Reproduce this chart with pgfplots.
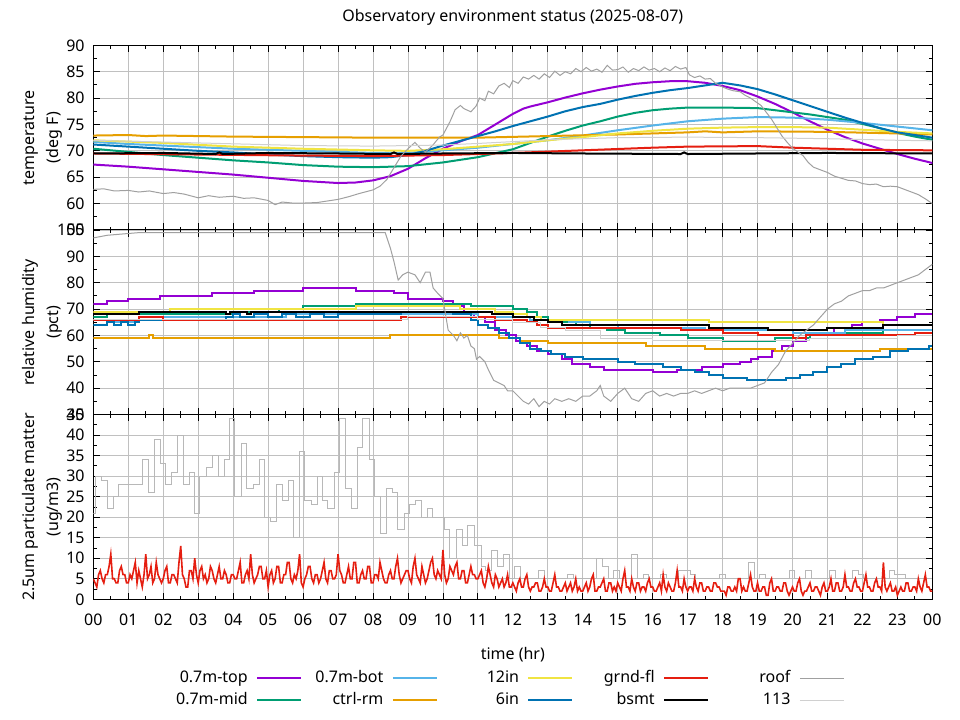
\documentclass[border=0pt]{standalone}
\usepackage{fontspec}
\setmainfont{Noto Sans}
\usepackage{pgfplots}
\pgfplotsset{compat=1.18}
\definecolor{cpurple}{HTML}{9400D3}
\definecolor{cgreen}{HTML}{009E73}
\definecolor{clblue}{HTML}{56B4E9}
\definecolor{corange}{HTML}{E69F00}
\definecolor{cyellow}{HTML}{F0E442}
\definecolor{cblue}{HTML}{0072B2}
\definecolor{cred}{HTML}{E51E10}
\definecolor{croof}{HTML}{A0A0A0}
\definecolor{c113}{HTML}{D0D0D0}
\definecolor{cgrid}{HTML}{C0C0C0}
\pgfplotsset{
  envaxis/.style={
    scale only axis, width=629.25pt, xmin=0, xmax=24,
    xtick={0,1,...,24}, minor x tick num=1, minor y tick num=1,
    tick align=inside, tick pos=both,
    major tick length=5pt, minor tick length=2.5pt,
    grid=major, major grid style={color=cgrid, line width=0.6pt},
    axis line style={line width=0.75pt},
    every tick/.style={black, line width=0.6pt},
    every minor tick/.style={black, line width=0.6pt},
    tick label style={font=\fontsize{12}{14}\selectfont},
    /pgf/number format/assume math mode=true,
    yticklabel shift=3pt,
    ylabel style={at={(axis description cs:-0.0604,0.5)}, anchor=center, align=center, font=\fontsize{12}{18}\selectfont},
  },
  thick line/.style={line width=1.5pt},
  thin line/.style={line width=0.75pt},
}
\begin{document}
\begin{tikzpicture}
\path[use as bounding box] (0,0) rectangle (720pt,540pt);
\node[font=\fontsize{12}{14}\selectfont, anchor=base] at (384.6pt,523.7pt) {Observatory environment status (2025-08-07)};

% ---------------- temperature ----------------
\begin{axis}[envaxis, at={(70pt,367.5pt)}, anchor=south west, height=138.5pt,
  ymin=55, ymax=90, ytick={55,60,...,90}, xticklabels={},
  ylabel={temperature\\(deg F)}]
\addplot[cpurple, thick line] coordinates {(0,67.4)(1,67.0)(2,66.5)(3,66.0)(4,65.5)(5,64.9)(6,64.3)(7,63.9)(7.5,64.0)(8,64.4)(8.5,65.2)(9,66.6)(9.5,68.6)(10,70.4)(10.5,71.8)(11,73.0)(11.5,75.0)(12,77.0)(12.3,78.0)(12.5,78.4)(13,79.2)(13.5,80.1)(14,80.9)(14.5,81.6)(15,82.2)(15.5,82.7)(16,83.0)(16.5,83.2)(17,83.2)(17.5,82.9)(18,82.3)(18.5,81.5)(19,80.3)(19.5,78.9)(20,77.3)(20.5,75.6)(21,74.0)(21.5,72.6)(22,71.4)(22.5,70.4)(23,69.4)(23.5,68.5)(24,67.7)};
\addplot[cgreen, thick line] coordinates {(0,70.4)(1,69.8)(2,69.2)(3,68.7)(4,68.2)(5,67.8)(6,67.3)(7,67.0)(8,66.9)(9,67.1)(10,67.8)(11,68.8)(12,70.3)(12.5,71.5)(13,72.7)(13.5,73.8)(14,74.8)(14.5,75.6)(15,76.5)(15.5,77.2)(16,77.7)(16.5,78.0)(17,78.2)(18,78.2)(19,78.1)(19.5,77.7)(20,77.3)(20.5,76.9)(21,76.4)(21.5,75.9)(22,75.1)(22.5,74.3)(23,73.4)(23.5,72.7)(24,72.1)};
\addplot[clblue, thick line] coordinates {(0,71.7)(1,71.3)(2,71.0)(3,70.7)(4,70.4)(5,70.2)(6,70.0)(7,69.8)(8,69.6)(9,69.6)(10,70.1)(11,70.6)(12,71.3)(13,72.0)(14,72.9)(15,73.9)(16,74.8)(17,75.6)(18,76.1)(19,76.4)(20,76.3)(21,75.9)(22,75.3)(23,74.6)(24,73.9)};
\addplot[corange, thick line] coordinates {(0,72.9)(1,73.0)(1.5,72.8)(2,72.9)(4,72.7)(6,72.6)(8,72.5)(11,72.5)(13,72.8)(15,73.1)(17,73.5)(17.5,73.7)(18,73.5)(19,73.7)(21,73.6)(23,73.3)(24,73.1)};
\addplot[cyellow, thick line] coordinates {(0,72.0)(2,71.5)(4,70.8)(6,70.4)(8,70.1)(9,70.0)(10,70.3)(11,70.8)(12,71.3)(13,72.0)(14,72.6)(15,73.3)(16,73.8)(17,74.2)(18,74.4)(19,74.5)(20,74.5)(21,74.4)(22,74.0)(23,73.6)(24,73.3)};
\addplot[cblue, thick line] coordinates {(0,71.2)(1,70.8)(2,70.4)(3,70.0)(4,69.7)(5,69.3)(6,69.0)(7,68.8)(8,68.7)(8.5,68.8)(9,69.2)(9.5,70.0)(10,71.0)(10.5,71.9)(11,72.8)(11.5,73.7)(12,74.7)(12.5,75.6)(13,76.5)(13.5,77.5)(14,78.3)(14.5,78.9)(15,79.7)(15.5,80.4)(16,81.0)(16.5,81.5)(17,81.9)(17.5,82.4)(18,82.9)(18.5,82.4)(19,81.7)(19.5,80.7)(20,79.6)(20.5,78.5)(21,77.4)(21.5,76.3)(22,75.3)(22.5,74.3)(23,73.5)(23.5,73.0)(24,72.5)};
\addplot[cred, thick line] coordinates {(0,69.5)(3,69.3)(6,69.1)(8,69.0)(10,69.2)(11,69.4)(12,69.6)(14,70.1)(16,70.6)(17,70.8)(19,70.9)(20,70.6)(21,70.4)(22,70.2)(24,70.1)};
\addplot[black, thick line] coordinates {(0,69.5)(2,69.6)(3.5,69.4)(3.6,69.7)(3.7,69.4)(5,69.6)(7,69.5)(8.5,69.4)(8.6,69.7)(8.7,69.4)(10,69.5)(12,69.6)(14,69.5)(16.8,69.4)(16.9,69.7)(17,69.4)(19,69.5)(21,69.6)(24,69.5)};
\addplot[croof, thin line] coordinates {(0,62.7)(0.3,62.8)(0.6,62.4)(1.0,62.5)(1.3,62.2)(1.6,62.4)(2.0,61.9)(2.3,62.1)(2.6,61.8)(3.0,61.1)(3.3,61.5)(3.6,61.2)(4.0,61.4)(4.3,61.0)(4.6,61.1)(5.0,60.6)(5.2,59.8)(5.4,60.3)(5.7,60.1)(6.0,60.1)(6.4,60.2)(6.8,60.6)(7.0,60.8)(7.3,61.3)(7.6,61.9)(8.0,62.6)(8.2,63.3)(8.4,64.6)(8.6,66.8)(8.8,69.0)(9.0,70.4)(9.2,71.6)(9.35,70.5)(9.5,69.8)(9.7,71.0)(9.9,72.6)(10.0,73.0)(10.2,75.5)(10.35,77.8)(10.5,78.6)(10.6,78.0)(10.8,77.4)(10.95,78.5)(11.05,80.0)(11.2,79.5)(11.3,81.3)(11.45,80.8)(11.6,82.3)(11.75,82.8)(11.9,82.0)(12.0,83.3)(12.15,82.8)(12.3,84.0)(12.45,83.6)(12.6,84.3)(12.75,83.6)(12.9,84.6)(13.05,83.9)(13.2,85.1)(13.35,84.3)(13.5,85.0)(13.65,84.6)(13.8,85.6)(13.95,85.0)(14.1,85.8)(14.25,85.1)(14.4,85.5)(14.55,84.9)(14.7,86.2)(14.85,85.3)(15.0,85.4)(15.15,85.9)(15.3,84.9)(15.45,85.6)(15.6,85.2)(15.75,85.9)(15.9,85.3)(16.05,85.6)(16.2,85.0)(16.35,85.7)(16.5,85.2)(16.65,86.0)(16.8,85.5)(16.95,85.8)(17.05,84.4)(17.2,83.9)(17.35,84.2)(17.5,83.6)(17.65,83.7)(17.8,82.8)(18.0,82.1)(18.15,81.7)(18.3,81.4)(18.5,81.2)(18.65,80.5)(18.8,80.0)(18.95,79.3)(19.1,78.6)(19.25,77.3)(19.4,76.0)(19.55,74.4)(19.7,72.8)(19.85,71.6)(20.0,70.5)(20.15,69.8)(20.3,69.1)(20.45,67.8)(20.6,66.9)(20.8,66.4)(21.0,65.9)(21.2,65.2)(21.4,64.8)(21.6,64.4)(21.8,64.3)(22.0,63.8)(22.2,63.6)(22.4,63.7)(22.6,63.2)(22.8,63.3)(23.0,63.2)(23.2,62.7)(23.4,62.2)(23.6,61.7)(23.8,60.9)(24.0,60.0)};
\addplot[c113, thin line] coordinates {(0,72.0)(3,71.5)(6,71.0)(8,70.9)(10,71.1)(11,71.4)(13,72.1)(15,72.5)(17,72.6)(19,72.5)(21,72.3)(23,72.0)(24,71.9)};
\end{axis}

% ---------------- humidity ----------------
\begin{axis}[envaxis, at={(70pt,229.1pt)}, anchor=south west, height=138.4pt,
  ymin=30, ymax=100, ytick={30,40,...,100}, xticklabels={},
  ylabel={relative humidity\\(pct)}]
\addplot[cpurple, thick line, const plot] coordinates {(0,72)(0.4,73)(1.0,74)(1.9,75)(3.4,76)(4.6,77)(6.0,78)(7.5,77)(8.6,76)(9.0,74)(10.0,73)(10.3,71)(10.6,69)(10.9,67)(11.2,65)(11.5,62)(11.8,60)(12.1,58)(12.4,56)(12.7,54)(13.0,53)(13.4,51)(13.7,49)(14.2,48)(14.6,47)(16.0,46)(16.7,47)(17.4,48)(18.0,49)(18.5,50)(18.8,51)(19.0,52)(19.4,54)(19.7,56)(20.0,58)(20.4,60)(20.8,61)(21.2,63)(21.7,64)(22.0,65)(22.5,66)(23.0,67)(23.5,68)(24,68)};
\addplot[cgreen, thick line, const plot] coordinates {(0,67)(0.4,68)(4.2,69)(5.3,70)(6.0,71)(7.5,72)(10.8,71)(12.0,70)(12.4,69)(12.7,67)(13.0,66)(13.4,65)(13.8,64)(14.2,63)(14.7,62)(15.2,61)(16.2,60)(17.0,59)(18.0,58)(19.5,59)(20.5,60)(21.3,61)(22.6,62)(24,62)};
\addplot[clblue, thick line, const plot] coordinates {(0,66)(0.5,65)(1.3,66)(2.0,67)(5.5,68)(11.0,67)(12.5,66)(13.6,65)(14.2,64)(15.0,63)(17.5,62)(20.0,61)(21.5,62)(24,62)};
\addplot[corange, thick line, const plot] coordinates {(0,59)(1.6,60)(1.7,59)(8.5,60)(11.6,59)(12.2,58)(13.0,57)(15.8,56)(17.5,55)(19.5,54)(22.5,55)(24,55)};
\addplot[cyellow, thick line, const plot] coordinates {(0,69)(2.2,70)(7.5,71)(10.5,70)(11.5,69)(12.0,68)(12.4,67)(12.8,66)(17.6,65)(22.6,64)(24,64)};
\addplot[cblue, thick line, const plot] coordinates {(0,64)(0.4,65)(0.6,64)(0.8,65)(1.0,64)(1.2,65)(1.3,66)(3.8,67)(4.0,68)(4.2,67)(4.6,68)(5.0,67)(5.4,68)(5.8,67)(6.2,68)(6.6,67)(7.0,68)(8.8,69)(10.3,68)(10.8,66)(11.0,64)(11.3,63)(11.6,61)(11.9,59)(12.2,57)(12.5,55)(12.8,54)(13.1,53)(13.5,52)(14.0,51)(15.0,50)(15.5,49)(16.3,48)(16.8,47)(17.2,46)(17.6,45)(18.0,44)(18.7,43)(19.8,44)(20.2,45)(20.6,46)(21.0,48)(21.4,49)(21.8,51)(22.3,52)(22.8,54)(23.3,55)(23.9,56)(24,56)};
\addplot[cred, thick line, const plot] coordinates {(0,66)(1.3,67)(2.0,66)(8.8,67)(11.5,66)(12.4,65)(12.7,64)(13.0,63)(16.8,62)(18.0,61)(19.0,60)(20.0,59)(20.4,60)(23.5,61)(24,61)};
\addplot[black, thick line, const plot] coordinates {(0,68)(1.3,69)(3.8,68)(3.9,69)(4.4,68)(4.5,69)(11.4,68)(12.0,67)(12.6,66)(13.0,65)(13.4,64)(17.6,63)(19.3,62)(21.0,63)(22.6,64)(24,64)};
\addplot[croof, thin line] coordinates {(0,97)(0.4,98)(1.3,99)(8.35,99)(8.5,93)(8.6,88)(8.72,81)(8.85,83)(9.0,84)(9.2,83)(9.35,80)(9.5,84)(9.63,84)(9.72,78)(9.85,76)(10.0,74)(10.1,66)(10.15,62)(10.3,60)(10.4,58)(10.5,61)(10.6,59)(10.7,60)(10.8,56)(10.9,55)(10.96,51)(11.05,52)(11.2,50)(11.3,47)(11.45,43)(11.6,42)(11.75,41)(11.85,39)(12.0,39)(12.15,37)(12.3,35)(12.45,34)(12.6,36)(12.75,33)(12.9,35)(13.05,34)(13.2,36)(13.4,35)(13.6,36)(13.8,35)(14.0,37)(14.2,37)(14.4,39)(14.5,41)(14.6,37)(14.8,35)(15.0,38)(15.2,40)(15.4,36)(15.6,35)(15.8,38)(16.0,39)(16.2,37)(16.4,38)(16.6,37)(16.8,38)(17.0,38)(17.2,39)(17.4,38)(17.6,39)(17.8,40)(18.0,39)(18.2,40)(18.4,40)(18.6,40)(18.8,40)(19.0,41)(19.2,42)(19.4,46)(19.6,49)(19.8,54)(20.0,57)(20.2,60)(20.4,62)(20.6,64)(20.8,67)(21.0,70)(21.2,72)(21.4,73)(21.6,75)(21.8,76)(22.0,77)(22.2,77)(22.4,78)(22.6,78)(22.8,79)(23.0,80)(23.2,81)(23.4,82)(23.6,83)(23.8,85)(24.0,87)};
\addplot[c113, thin line, const plot] coordinates {(0,66)(9.0,67)(11.0,66)(12.0,65)(12.8,63)(13.5,62)(14.5,59)(16.0,58)(20.5,59)(23.0,60)(24,60)};
\end{axis}

% ---------------- particulate matter ----------------
\begin{axis}[envaxis, at={(70pt,90.5pt)}, anchor=south west, height=138.6pt,
  ymin=0, ymax=45, ytick={0,5,...,45},
  xticklabels={00,01,02,03,04,05,06,07,08,09,10,11,12,13,14,15,16,17,18,19,20,21,22,23,00},
  xticklabel style={anchor=base, yshift=-20pt},
  xlabel={time (hr)},
  xlabel style={at={(axis description cs:0.5,-0.3229)}, anchor=base, font=\fontsize{12}{14}\selectfont},
  ylabel={2.5um particulate matter\\(ug/m3)},
  legend columns=5, legend plot pos=right,
  legend style={at={(axis description cs:0.0868,-0.385)}, anchor=north west, draw=none, fill=none,
    inner sep=0pt, column sep=0pt, row sep=5.5pt,
    nodes={inner sep=0pt, text height=8.5pt, text depth=2.5pt, font=\fontsize{12}{14}\selectfont}},
  legend image code/.code={\path[draw=none,fill=none] (0pt,-2pt) rectangle (40pt,2pt); \draw[#1] (7pt,0pt) -- (40pt,0pt);},
]
\addlegendimage{cpurple, thick line}\addlegendentry{\makebox[61pt][r]{0.7m-top}}
\addlegendimage{clblue, thick line}\addlegendentry{\makebox[61pt][r]{0.7m-bot}}
\addlegendimage{cyellow, thick line}\addlegendentry{\makebox[61pt][r]{12in}}
\addlegendimage{cred, thick line}\addlegendentry{\makebox[61pt][r]{grnd-fl}}
\addlegendimage{croof, thin line}\addlegendentry{\makebox[61pt][r]{roof}}
\addlegendimage{cgreen, thick line}\addlegendentry{\makebox[61pt][r]{0.7m-mid}}
\addlegendimage{corange, thick line}\addlegendentry{\makebox[61pt][r]{ctrl-rm}}
\addlegendimage{cblue, thick line}\addlegendentry{\makebox[61pt][r]{6in}}
\addlegendimage{black, thick line}\addlegendentry{\makebox[61pt][r]{bsmt}}
\addlegendimage{c113, thin line}\addlegendentry{\makebox[61pt][r]{113}}
\addplot[croof!75!white, thin line, const plot, forget plot] coordinates {
(0,21)(0.05,30)(0.24,29)(0.4,22)(0.57,25)(0.73,28)(1.41,34)(1.57,26)(1.74,39)(1.92,33)(2.07,28)(2.24,31)(2.41,40)(2.57,28)(2.74,31)(2.9,21)(3.05,30)(3.24,32)(3.4,35)(3.57,30)(3.74,34)(3.9,44)(4.05,25)(4.24,38)(4.38,27)(4.57,28)(4.74,34)(4.9,20)(5.07,19)(5.24,28)(5.4,24)(5.57,29)(5.73,15)(5.9,36)(6.05,24)(6.24,23)(6.4,30)(6.55,24)(6.71,22)(6.89,31)(7.03,44)(7.22,27)(7.38,22)(7.55,37)(7.71,44)(7.89,34)(8.05,25)(8.22,16)(8.38,27)(8.55,26)(8.71,17)(8.89,21)(9.05,23)(9.22,24)(9.38,20)(9.55,22)(9.71,20)(10.05,17)(10.2,10)(10.4,17)(10.55,13)(10.71,18)(10.89,13)(11.1,8)(11.22,7)(11.39,12)(11.56,8)(11.73,11)(11.9,5)(12.06,8)(12.22,5)(12.73,7)(12.9,5)(13.56,6)(13.73,5)(14.4,10)(14.57,8)(14.73,5)(14.89,7)(15.06,5)(15.4,11)(15.56,5)(15.73,6)(15.89,5)(16.21,6)(16.4,5)(16.73,7)(17.07,6)(17.23,5)(17.9,6)(18.07,5)(18.73,9)(18.9,5)(19.07,6)(19.23,5)(19.91,7)(20.07,5)(20.38,7)(20.55,5)(21.07,7)(21.24,5)(21.72,7)(21.88,6)(22.02,5)(22.77,7)(22.93,6)(23.22,5)(24,5)};
\addplot[cred, line width=1.2pt, forget plot] coordinates {
(0.00,5)(0.05,4)(0.10,3)(0.15,6)(0.20,7)(0.25,5)(0.30,4)(0.35,6)(0.40,6)(0.45,8)(0.50,11)(0.55,5)(0.60,5)(0.65,4)(0.70,4)(0.75,7)(0.80,8)(0.85,6)(0.90,6)(0.95,4)
(1.00,4)(1.05,6)(1.10,5)(1.15,7)(1.20,9)(1.25,4)(1.30,7)(1.35,5)(1.40,3)(1.45,6)(1.50,11)(1.55,5)(1.60,6)(1.65,8)(1.70,4)(1.75,5)(1.80,9)(1.85,6)(1.90,5)(1.95,4)
(2.00,5)(2.05,7)(2.10,8)(2.15,4)(2.20,4)(2.25,6)(2.30,6)(2.35,5)(2.40,4)(2.45,9)(2.50,13)(2.55,6)(2.60,5)(2.65,3)(2.70,3)(2.75,7)(2.80,7)(2.85,5)(2.90,10)(2.95,6)
(3.00,4)(3.05,7)(3.10,8)(3.15,5)(3.20,6)(3.25,4)(3.30,5)(3.35,8)(3.40,7)(3.45,5)(3.50,4)(3.55,6)(3.60,8)(3.65,5)(3.70,5)(3.75,7)(3.80,6)(3.85,4)(3.90,4)(3.95,6)
(4.00,6)(4.05,5)(4.10,5)(4.15,7)(4.20,9)(4.25,4)(4.30,4)(4.35,6)(4.40,7)(4.45,5)(4.50,11)(4.55,6)(4.60,4)(4.65,5)(4.70,6)(4.75,8)(4.80,8)(4.85,5)(4.90,5)(4.95,7)
(5.00,3)(5.05,6)(5.10,7)(5.15,4)(5.20,5)(5.25,8)(5.30,8)(5.35,4)(5.40,4)(5.45,6)(5.50,6)(5.55,9)(5.60,9)(5.65,5)(5.70,4)(5.75,6)(5.80,5)(5.85,7)(5.90,11)(5.95,4)
(6.00,3)(6.05,5)(6.10,6)(6.15,8)(6.20,8)(6.25,5)(6.30,4)(6.35,6)(6.40,6)(6.45,4)(6.50,5)(6.55,7)(6.60,9)(6.65,5)(6.70,4)(6.75,7)(6.80,7)(6.85,5)(6.90,5)(6.95,6)
(7.00,11)(7.05,7)(7.10,6)(7.15,4)(7.20,4)(7.25,6)(7.30,8)(7.35,5)(7.40,5)(7.45,9)(7.50,9)(7.55,4)(7.60,4)(7.65,6)(7.70,7)(7.75,5)(7.80,5)(7.85,8)(7.90,8)(7.95,4)
(8.00,4)(8.05,6)(8.10,6)(8.15,5)(8.20,9)(8.25,7)(8.30,5)(8.35,4)(8.40,4)(8.45,6)(8.50,7)(8.55,5)(8.60,5)(8.65,8)(8.70,10)(8.75,6)(8.80,4)(8.85,5)(8.90,6)(8.95,7)
(9.00,7)(9.05,5)(9.10,4)(9.15,8)(9.20,10)(9.25,6)(9.30,5)(9.35,4)(9.40,8)(9.45,6)(9.50,4)(9.55,5)(9.60,7)(9.65,9)(9.70,10)(9.75,6)(9.80,5)(9.85,7)(9.90,6)(9.95,5)
(10.00,12)(10.05,6)(10.10,4)(10.15,5)(10.20,8)(10.25,7)(10.30,6)(10.35,8)(10.40,9)(10.45,5)(10.50,5)(10.55,7)(10.60,7)(10.65,4)(10.70,4)(10.75,6)(10.80,8)(10.85,6)(10.90,6)(10.95,5)
(11.00,5)(11.05,6)(11.10,7)(11.15,4)(11.20,3)(11.25,5)(11.30,8)(11.35,6)(11.40,4)(11.45,3)(11.50,6)(11.55,5)(11.60,3)(11.65,4)(11.70,5)(11.75,3)(11.80,4)(11.85,6)(11.90,3)(11.95,3)
(12.00,4)(12.05,3)(12.10,2)(12.15,4)(12.20,5)(12.25,3)(12.30,3)(12.35,5)(12.40,6)(12.45,3)(12.50,2)(12.55,3)(12.60,3)(12.65,4)(12.70,4)(12.75,2)(12.80,2)(12.85,3)(12.90,5)(12.95,3)
(13.00,3)(13.05,2)(13.10,2)(13.15,4)(13.20,6)(13.25,3)(13.30,3)(13.35,2)(13.40,2)(13.45,3)(13.50,4)(13.55,2)(13.60,3)(13.65,4)(13.70,2)(13.75,3)(13.80,5)(13.85,2)(13.90,3)(13.95,2)
(14.00,2)(14.05,3)(14.10,4)(14.15,2)(14.20,3)(14.25,5)(14.30,6)(14.35,2)(14.40,2)(14.45,3)(14.50,3)(14.55,4)(14.60,5)(14.65,2)(14.70,2)(14.75,4)(14.80,4)(14.85,2)(14.90,3)(14.95,2)
(15.00,4)(15.05,3)(15.10,2)(15.15,5)(15.20,7)(15.25,3)(15.30,3)(15.35,2)(15.40,5)(15.45,3)(15.50,2)(15.55,4)(15.60,4)(15.65,2)(15.70,3)(15.75,3)(15.80,2)(15.85,4)(15.90,5)(15.95,3)
(16.00,3)(16.05,2)(16.10,2)(16.15,3)(16.20,4)(16.25,2)(16.30,6)(16.35,3)(16.40,2)(16.45,4)(16.50,3)(16.55,2)(16.60,2)(16.65,4)(16.70,7)(16.75,3)(16.80,3)(16.85,2)(16.90,5)(16.95,3)
(17.00,2)(17.05,3)(17.10,3)(17.15,2)(17.20,5)(17.25,3)(17.30,2)(17.35,4)(17.40,4)(17.45,2)(17.50,2)(17.55,3)(17.60,3)(17.65,2)(17.70,2)(17.75,4)(17.80,4)(17.85,3)(17.90,3)(17.95,2)
(18.00,2)(18.05,2)(18.10,1)(18.15,3)(18.20,3)(18.25,2)(18.30,2)(18.35,3)(18.40,2)(18.45,5)(18.50,5)(18.55,2)(18.60,3)(18.65,2)(18.70,2)(18.75,4)(18.80,6)(18.85,3)(18.90,2)(18.95,2)
(19.00,4)(19.05,2)(19.10,2)(19.15,3)(19.20,3)(19.25,1)(19.30,1)(19.35,4)(19.40,5)(19.45,2)(19.50,2)(19.55,3)(19.60,3)(19.65,2)(19.70,2)(19.75,4)(19.80,4)(19.85,2)(19.90,1)(19.95,2)
(20.00,3)(20.05,2)(20.10,2)(20.15,4)(20.20,5)(20.25,2)(20.30,1)(20.35,2)(20.40,2)(20.45,3)(20.50,4)(20.55,2)(20.60,2)(20.65,3)(20.70,3)(20.75,2)(20.80,1)(20.85,3)(20.90,4)(20.95,2)
(21.00,2)(21.05,3)(21.10,5)(21.15,2)(21.20,2)(21.25,4)(21.30,4)(21.35,2)(21.40,2)(21.45,3)(21.50,6)(21.55,3)(21.60,3)(21.65,2)(21.70,2)(21.75,4)(21.80,5)(21.85,3)(21.90,3)(21.95,2)
(22.00,2)(22.05,4)(22.10,6)(22.15,3)(22.20,3)(22.25,2)(22.30,2)(22.35,4)(22.40,5)(22.45,3)(22.50,3)(22.55,2)(22.60,9)(22.65,3)(22.70,2)(22.75,3)(22.80,4)(22.85,2)(22.90,2)(22.95,3)
(23.00,1)(23.05,2)(23.10,3)(23.15,2)(23.20,2)(23.25,4)(23.30,4)(23.35,2)(23.40,2)(23.45,3)(23.50,3)(23.55,2)(23.60,5)(23.65,3)(23.70,2)(23.75,4)(23.80,6)(23.85,3)(23.90,3)(23.95,2)(24.00,2)};
\end{axis}
\end{tikzpicture}
\end{document}
